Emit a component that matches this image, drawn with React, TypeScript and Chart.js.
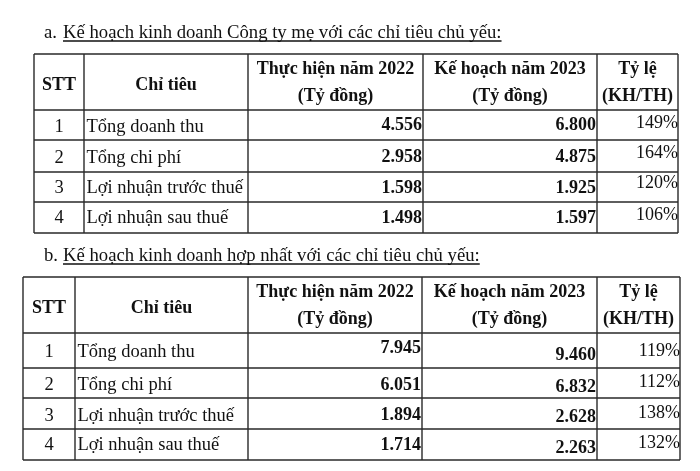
import React, { useEffect, useRef } from "react";
import { Chart, registerables } from "chart.js";

Chart.register(...registerables);

// ---------- data ----------
const titleA = "Kế hoạch kinh doanh Công ty mẹ với các chỉ tiêu chủ yếu:";
const titleB = "Kế hoạch kinh doanh hợp nhất với các chỉ tiêu chủ yếu:";
const prefixA = "a.";
const prefixB = "b.";
const headers = [
  ["STT"],
  ["Chỉ tiêu"],
  ["Thực hiện năm 2022", "(Tỷ đồng)"],
  ["Kế hoạch năm 2023", "(Tỷ đồng)"],
  ["Tỷ lệ", "(KH/TH)"],
];
const stt = [1, 2, 3, 4];
const categories = ["Tổng doanh thu", "Tổng chi phí", "Lợi nhuận trước thuế", "Lợi nhuận sau thuế"];
const parent2022 = [4556, 2958, 1598, 1498];
const parent2023 = [6800, 4875, 1925, 1597];
const parentRatio = [149, 164, 120, 106];
const consol2022 = [7945, 6051, 1894, 1714];
const consol2023 = [9460, 6832, 2628, 2263];
const consolRatio = [119, 112, 138, 132];

// ---------- layout (positions in page units, mapped via chart scales) ----------
const layoutA = {
  xs: [34, 84, 248, 423, 597, 678],
  ys: [54, 110, 140, 172, 202, 233],
  titleY: 38,
  nameBase: [132, 163, 193, 223],
  v22Base: [130, 162, 193, 223],
  v23Base: [130, 162, 193, 223],
  ratioBase: [128, 158, 188, 220],
};
const layoutB = {
  xs: [23, 75, 248, 422, 597, 680],
  ys: [277, 333, 368, 398, 429, 460],
  titleY: 261,
  nameBase: [357, 390, 421, 450],
  v22Base: [353, 390, 420, 450],
  v23Base: [360, 392, 422, 453],
  ratioBase: [356, 387, 418, 448],
};

const FONT = "'Liberation Serif', 'Times New Roman', serif";
const fmt = (v: number) => {
  const s = String(v);
  return s.length > 3 ? s.slice(0, s.length - 3) + "." + s.slice(s.length - 3) : s;
};

function drawTable(chart: any, L: any, prefix: string, title: string, v22: number[], v23: number[], ratio: number[]) {
  const ctx: CanvasRenderingContext2D = chart.ctx;
  const sx = chart.scales.x;
  const sy = chart.scales.y;
  const px = (v: number) => sx.getPixelForValue(v);
  const py = (v: number) => sy.getPixelForValue(v);
  ctx.save();
  ctx.fillStyle = "#111";
  ctx.textBaseline = "alphabetic";

  // title
  ctx.font = `18.7px ${FONT}`;
  ctx.textAlign = "left";
  ctx.fillText(prefix, px(44), py(L.titleY));
  const ux = px(63);
  ctx.fillText(title, ux, py(L.titleY));
  const tw = ctx.measureText(title).width;
  ctx.strokeStyle = "#111";
  ctx.lineWidth = 1.4;
  ctx.beginPath();
  ctx.moveTo(ux, py(L.titleY) + 3);
  ctx.lineTo(ux + tw, py(L.titleY) + 3);
  ctx.stroke();

  // grid
  ctx.strokeStyle = "#2a2a2a";
  ctx.lineWidth = 1.4;
  const x0 = px(L.xs[0]);
  const x1 = px(L.xs[L.xs.length - 1]);
  const y0 = py(L.ys[0]);
  const y1 = py(L.ys[L.ys.length - 1]);
  ctx.beginPath();
  L.ys.forEach((v: number) => {
    ctx.moveTo(x0, py(v));
    ctx.lineTo(x1, py(v));
  });
  L.xs.forEach((v: number) => {
    ctx.moveTo(px(v), y0);
    ctx.lineTo(px(v), y1);
  });
  ctx.stroke();

  // header
  ctx.font = `bold 18px ${FONT}`;
  ctx.textAlign = "center";
  headers.forEach((lines, c) => {
    const cx = (px(L.xs[c]) + px(L.xs[c + 1])) / 2;
    if (lines.length === 1) {
      ctx.fillText(lines[0], cx, py(L.ys[0] + 36));
    } else {
      ctx.fillText(lines[0], cx, py(L.ys[0] + 20));
      ctx.fillText(lines[1], cx, py(L.ys[0] + 47));
    }
  });

  // body
  categories.forEach((name, r) => {
    ctx.font = `18.5px ${FONT}`;
    ctx.textAlign = "center";
    ctx.fillText(String(stt[r]), (px(L.xs[0]) + px(L.xs[1])) / 2, py(L.nameBase[r]));
    ctx.textAlign = "left";
    ctx.fillText(name, px(L.xs[1] + 2.5), py(L.nameBase[r]));
    ctx.font = `bold 18px ${FONT}`;
    ctx.textAlign = "right";
    ctx.fillText(fmt(v22[r]), px(L.xs[3] - 1), py(L.v22Base[r]));
    ctx.fillText(fmt(v23[r]), px(L.xs[4] - 1), py(L.v23Base[r]));
    ctx.font = `18px ${FONT}`;
    ctx.fillText(ratio[r] + "%", px(L.xs[5]), py(L.ratioBase[r]));
  });
  ctx.restore();
}

const tablePlugin = {
  id: "tablePlugin",
  beforeDraw(chart: any) {
    const ctx = chart.ctx;
    ctx.save();
    ctx.fillStyle = "#ffffff";
    ctx.fillRect(0, 0, chart.width, chart.height);
    ctx.restore();
  },
  afterDraw(chart: any) {
    drawTable(chart, layoutA, prefixA, titleA, parent2022, parent2023, parentRatio);
    drawTable(chart, layoutB, prefixB, titleB, consol2022, consol2023, consolRatio);
  },
};

export default function App() {
  const ref = useRef<HTMLCanvasElement | null>(null);
  useEffect(() => {
    document.body.style.margin = "0";
    if (!ref.current) return;
    const chart = new Chart(ref.current, {
      type: "scatter",
      data: { datasets: [{ data: [] }] },
      options: {
        animation: false,
        responsive: false,
        layout: { padding: 0 },
        plugins: { legend: { display: false }, tooltip: { enabled: false } },
        scales: {
          x: { type: "linear", min: 0, max: 700, display: false },
          y: { type: "linear", min: 0, max: 471, reverse: true, display: false },
        },
      },
      plugins: [tablePlugin],
    } as any);
    return () => chart.destroy();
  }, []);
  return (
    <div style={{ width: 700, height: 471, background: "#fff" }}>
      <canvas ref={ref} width={700} height={471} style={{ display: "block" }} />
    </div>
  );
}
